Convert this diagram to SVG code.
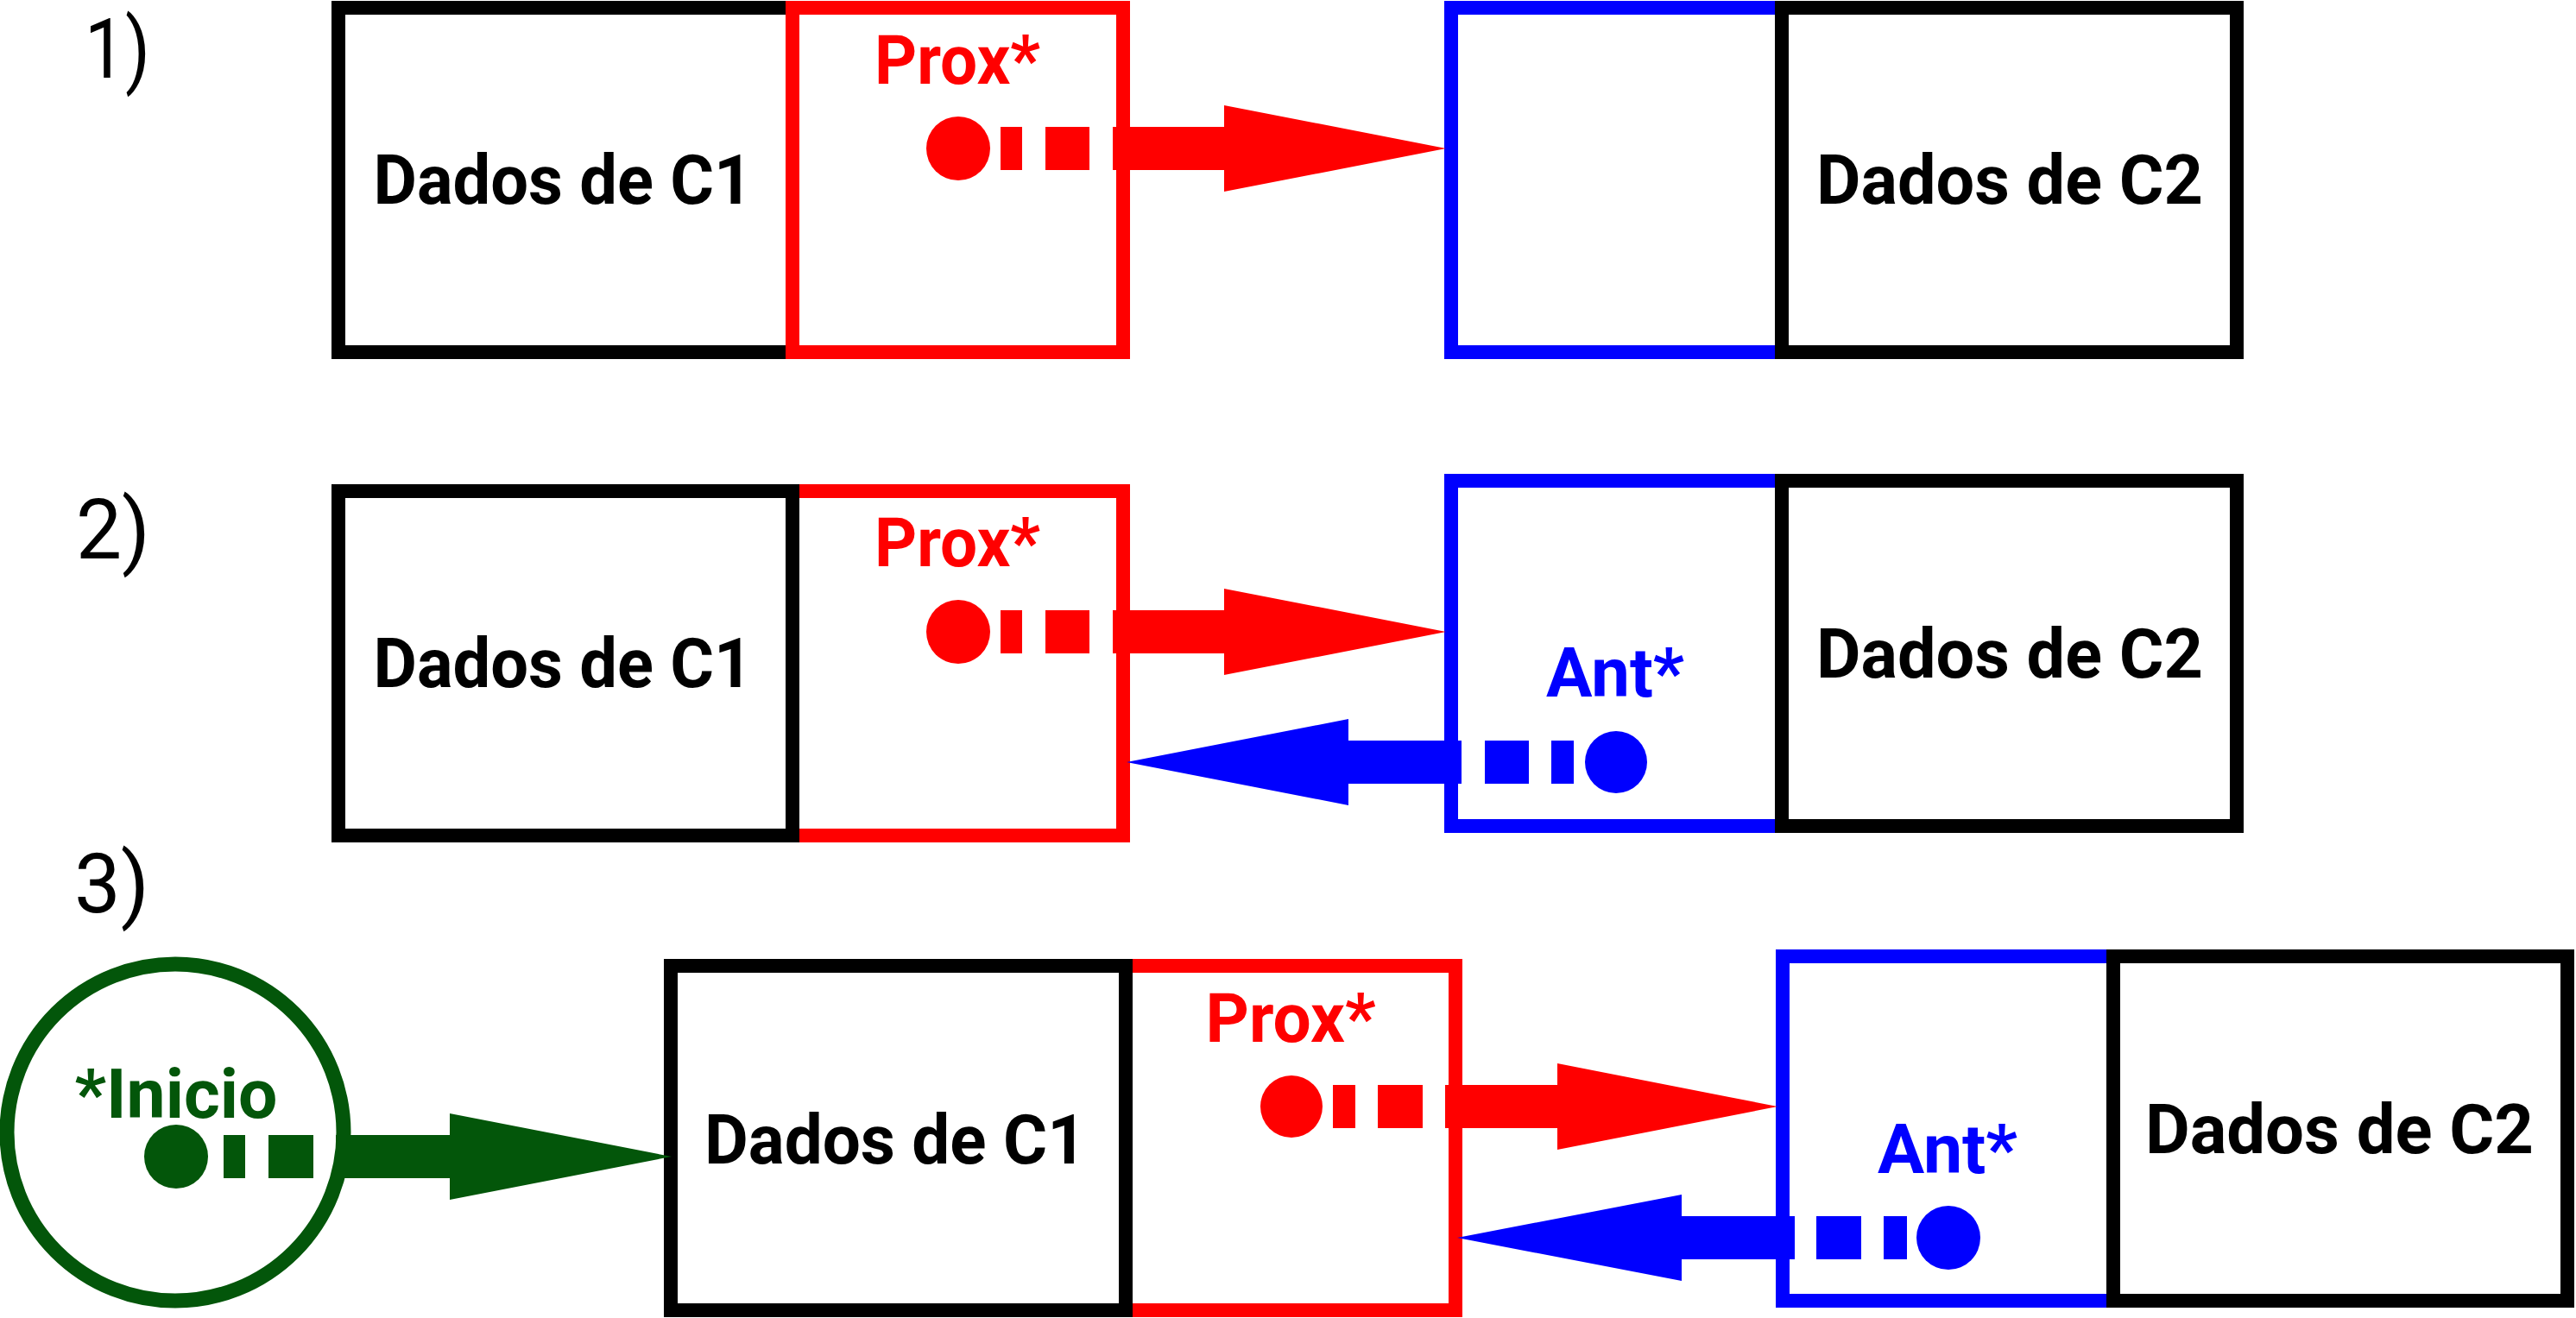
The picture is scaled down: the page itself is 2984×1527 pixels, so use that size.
<svg xmlns="http://www.w3.org/2000/svg" width="2984" height="1527" viewBox="0 0 2984 1527">
<style>
.box{fill:none;stroke-width:16}
.k{stroke:#000}
.r{stroke:#ff0000}
.b{stroke:#0000ff}
.t{font-family:Roboto,"Liberation Sans",sans-serif;font-weight:700;font-size:80px;text-anchor:middle}
.lab{font-family:Roboto,"Liberation Sans",sans-serif;font-weight:400;font-size:96px;fill:#000}
.fr{fill:#ff0000}
.fb{fill:#0000ff}
.fg{fill:#03560a}
.fk{fill:#000}
</style>
<rect width="2984" height="1527" fill="#fff"/>
<g id="labels">
<text class="lab" x="98" y="90" textLength="76" lengthAdjust="spacingAndGlyphs">1)</text>
<text class="lab" x="88" y="647" textLength="86" lengthAdjust="spacingAndGlyphs">2)</text>
<text class="lab" x="86" y="1057" textLength="87" lengthAdjust="spacingAndGlyphs">3)</text>
</g>
<!-- Row 1 -->
<g id="r1-c1">
<rect class="box k" x="392" y="9" width="526" height="399"/>
<rect class="box r" x="918" y="9" width="383" height="399"/>
<text class="t fk" x="652" y="236" textLength="439" lengthAdjust="spacingAndGlyphs">Dados de C1</text>
<text class="t fr" x="1109" y="97" textLength="192" lengthAdjust="spacingAndGlyphs">Prox*</text>
</g>
<g id="r1-c2">
<rect class="box b" x="1681" y="9" width="383" height="399"/>
<rect class="box k" x="2064" y="9" width="527" height="399"/>
<text class="t fk" x="2328" y="236" textLength="448" lengthAdjust="spacingAndGlyphs">Dados de C2</text>
</g>
<!-- Row 2 -->
<g id="r2-c1">
<rect class="box r" x="918" y="569" width="383" height="399"/>
<rect class="box k" x="392" y="569" width="526" height="399"/>
<text class="t fk" x="652" y="796" textLength="439" lengthAdjust="spacingAndGlyphs">Dados de C1</text>
<text class="t fr" x="1109" y="656" textLength="192" lengthAdjust="spacingAndGlyphs">Prox*</text>
</g>
<g id="r2-c2">
<rect class="box b" x="1681" y="557" width="383" height="400"/>
<rect class="box k" x="2064" y="557" width="527" height="400"/>
<text class="t fk" x="2328" y="785" textLength="448" lengthAdjust="spacingAndGlyphs">Dados de C2</text>
<text class="t fb" x="1871" y="807" textLength="160" lengthAdjust="spacingAndGlyphs">Ant*</text>
</g>
<!-- Row 3 -->
<g id="r3-inicio">
<circle cx="203" cy="1312" r="195" fill="none" stroke="#03560a" stroke-width="17"/>
<text class="t fg" x="204" y="1295" textLength="235" lengthAdjust="spacingAndGlyphs">*Inicio</text>
</g>
<g id="r3-c1">
<rect class="box r" x="1304" y="1119" width="382" height="399"/>
<rect class="box k" x="777" y="1119" width="527" height="399"/>
<text class="t fk" x="1037" y="1348" textLength="442" lengthAdjust="spacingAndGlyphs">Dados de C1</text>
<text class="t fr" x="1495" y="1207" textLength="197" lengthAdjust="spacingAndGlyphs">Prox*</text>
</g>
<g id="r3-c2">
<rect class="box b" x="2065" y="1108" width="383" height="399"/>
<rect class="box k" x="2448" y="1108" width="526" height="399"/>
<text class="t fk" x="2710" y="1336" textLength="450" lengthAdjust="spacingAndGlyphs">Dados de C2</text>
<text class="t fb" x="2256" y="1359" textLength="162" lengthAdjust="spacingAndGlyphs">Ant*</text>
</g>
<g id="connectors">
<!-- row 1 prox -->
<g class="fr">
<circle cx="1110" cy="172" r="37"/>
<rect x="1159" y="147" width="25" height="50"/>
<rect x="1211" y="147" width="51" height="50"/>
<rect x="1289" y="147" width="130" height="50"/>
<polygon points="1418,122 1675,172 1418,222"/>
</g>
<!-- row 2 prox -->
<g class="fr">
<circle cx="1110" cy="732" r="37"/>
<rect x="1159" y="707" width="25" height="50"/>
<rect x="1211" y="707" width="51" height="50"/>
<rect x="1289" y="707" width="130" height="50"/>
<polygon points="1418,682 1675,732 1418,782"/>
</g>
<!-- row 2 ant -->
<g class="fb">
<circle cx="1872" cy="883" r="36"/>
<rect x="1797" y="858" width="26" height="50"/>
<rect x="1720" y="858" width="51" height="50"/>
<rect x="1561" y="858" width="132" height="50"/>
<polygon points="1562,833 1305,883 1562,933"/>
</g>
<!-- row 3 inicio -->
<g class="fg">
<circle cx="204" cy="1340" r="37"/>
<rect x="259" y="1315" width="25" height="50"/>
<rect x="311" y="1315" width="52" height="50"/>
<rect x="389" y="1315" width="133" height="50"/>
<polygon points="521,1290 778,1340 521,1390"/>
</g>
<!-- row 3 prox -->
<g class="fr">
<circle cx="1496" cy="1282" r="36"/>
<rect x="1544" y="1257" width="26" height="50"/>
<rect x="1596" y="1257" width="52" height="50"/>
<rect x="1674" y="1257" width="131" height="50"/>
<polygon points="1804,1232 2059,1282 1804,1332"/>
</g>
<!-- row 3 ant -->
<g class="fb">
<circle cx="2257" cy="1434" r="37"/>
<rect x="2182" y="1409" width="27" height="50"/>
<rect x="2104" y="1409" width="52" height="50"/>
<rect x="1947" y="1409" width="132" height="50"/>
<polygon points="1948,1384 1688,1434 1948,1484"/>
</g>
</g>
</svg>
